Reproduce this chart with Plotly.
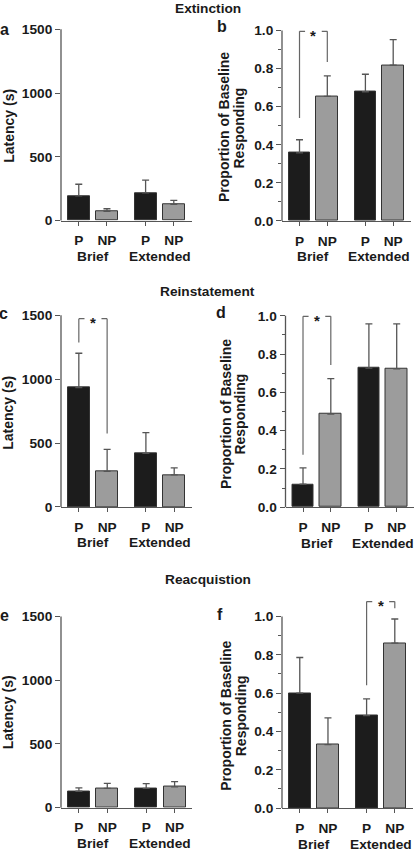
import plotly.graph_objects as go

# ---------------- data ----------------
conditions = ["P", "NP", "P", "NP"]
groups = ["Brief", "Extended"]
bar_pos = [0, 1, 2.37, 3.37]
group_members = [[0, 1], [2, 3]]

ext_lat_mean = [194, 73, 217, 127]
ext_lat_sem = [91, 20, 101, 31]
ext_prop_mean = [0.357, 0.654, 0.678, 0.818]
ext_prop_sem = [0.069, 0.107, 0.092, 0.134]

rein_lat_mean = [934, 279, 419, 251]
rein_lat_sem = [269, 171, 163, 55]
rein_prop_mean = [0.120, 0.486, 0.726, 0.723]
rein_prop_sem = [0.085, 0.186, 0.231, 0.234]

reacq_lat_mean = [129, 152, 152, 163]
reacq_lat_sem = [26, 39, 37, 41]
reacq_prop_mean = [0.600, 0.331, 0.483, 0.861]
reacq_prop_sem = [0.186, 0.140, 0.087, 0.126]

latency_ticks = [0, 500, 1000, 1500]
latency_ticktext = ["0", "500", "1000", "1500"]
prop_ticks = [0.0, 0.2, 0.4, 0.6, 0.8, 1.0]
prop_ticktext = ["0.0", "0.2", "0.4", "0.6", "0.8", "1.0"]
prop_minor_ticks = [0.1, 0.3, 0.5, 0.7, 0.9]

phase_titles = ["Extinction", "Reinstatement", "Reacquistion"]
panel_letters = ["a", "b", "c", "d", "e", "f"]
latency_title = "Latency (s)"
prop_title_lines = ["Proportion of Baseline", "Responding"]

# significance brackets
sig_panel = [1, 2, 3, 5]
sig_left = [0, 0, 0, 2]
sig_right = [1, 1, 1, 3]
sig_left_foot = [0.54, 1288, 0.274, 0.641]
sig_right_foot = [0.834, 574, 0.743, 1.043]
sig_top = [0.995, 1474, 0.997, 1.078]

panel_means = [ext_lat_mean, ext_prop_mean, rein_lat_mean, rein_prop_mean, reacq_lat_mean, reacq_prop_mean]
panel_sems = [ext_lat_sem, ext_prop_sem, rein_lat_sem, rein_prop_sem, reacq_lat_sem, reacq_prop_sem]
panel_is_latency = [True, False, True, False, True, False]

# ---------------- style / geometry ----------------
W, H = 416, 857
FONT = "Liberation Sans, Arial, Helvetica, sans-serif"
TXT = "#1a1a1a"
AX = "#555555"
OUTLINE = "#333333"
ERR = "#555555"
BRK = "#666666"
bar_fill = ["#1c1c1c", "#9c9c9c", "#1c1c1c", "#9c9c9c"]
FS = 13.7

# (axis-left px, zero px, px height 0..top, px per bar unit)
geom = [
    (61.0, 222.7, 193.2, 28.2),
    (282.0, 223.0, 192.3, 27.8),
    (61.0, 511.7, 193.4, 28.3),
    (285.5, 512.0, 193.3, 27.8),
    (61.0, 815.3, 193.0, 28.4),
    (282.0, 815.7, 193.4, 28.2),
]
XMIN, XMAX = -0.63, 4.0
EXT = 1.12
BAR_W = 0.78

title_pos = [(207.5, 8.3), (207.5, 294.3), (207.5, 585.0)]
letter_pos = [(4, 29.3), (222, 26.7), (3.5, 316.7), (221, 315), (4, 620.8), (219.7, 620)]
ytitle_pos = [[(8.3, 126.7)], [(224.5, 128.7), (239.0, 128.7)],
              [(8.0, 416.7)], [(226.0, 418.0), (240.5, 418.0)],
              [(8.0, 719.0)], [(226.0, 722.5), (240.5, 722.5)]]

def px_x(v):
    return v / W

def px_y(v):
    return 1 - v / H

fig = go.Figure()
shapes = []
annotations = []
layout_axes = {}

for i in range(6):
    n = i + 1
    xs = "x" if n == 1 else f"x{n}"
    ys = "y" if n == 1 else f"y{n}"
    x0px, zpx, hpx, unit = geom[i]
    x1px = x0px + (XMAX - XMIN) * unit
    is_lat = panel_is_latency[i]
    top = 1500 if is_lat else 1.0

    fig.add_trace(go.Bar(
        x=bar_pos, y=panel_means[i], width=BAR_W,
        marker=dict(color=bar_fill, line=dict(color=OUTLINE, width=1)),
        error_y=dict(type="data", symmetric=False, array=panel_sems[i],
                     arrayminus=[0] * len(panel_sems[i]),
                     color=ERR, thickness=1.3, width=3.5),
        xaxis=xs, yaxis=ys, showlegend=False, hoverinfo="skip"))

    tickfont = dict(family=FONT, size=FS, color=TXT, weight="bold")
    layout_axes["xaxis" if n == 1 else f"xaxis{n}"] = dict(
        domain=[px_x(x0px), px_x(x1px)], range=[XMIN, XMAX], anchor=ys,
        tickmode="array", tickvals=bar_pos, ticktext=conditions,
        ticks="outside", ticklen=4, tickwidth=1.2, tickcolor=AX,
        ticklabelstandoff=3,
        showline=True, linecolor=AX, linewidth=1.3,
        showgrid=False, zeroline=False, tickfont=tickfont, fixedrange=True)
    ya = dict(
        domain=[px_y(zpx), px_y(zpx - hpx * EXT)], range=[0, top * EXT], anchor=xs,
        tickmode="array",
        tickvals=latency_ticks if is_lat else prop_ticks,
        ticktext=latency_ticktext if is_lat else prop_ticktext,
        ticks="outside", ticklen=5, tickwidth=1.2, tickcolor=AX,
        showline=False, showgrid=False, zeroline=False,
        tickfont=tickfont, fixedrange=True)
    if not is_lat:
        ya["minor"] = dict(tickmode="array", tickvals=prop_minor_ticks, ticks="outside",
                           ticklen=3, tickwidth=1.1, tickcolor=AX, showgrid=False)
    layout_axes["yaxis" if n == 1 else f"yaxis{n}"] = ya

    # y axis line only from 0 to top
    shapes.append(dict(type="line", xref=f"{xs} domain", yref=f"{ys} domain",
                       x0=0, x1=0, y0=0, y1=1 / EXT,
                       line=dict(color=AX, width=1.3)))

    # group labels
    for g, members in enumerate(group_members):
        gx = sum(bar_pos[m] for m in members) / len(members)
        annotations.append(dict(text=groups[g], x=gx, y=0, xref=xs, yref=f"{ys} domain",
                                yshift=-36, showarrow=False, xanchor="center", yanchor="middle",
                                font=dict(family=FONT, size=FS, color=TXT, weight="bold")))

    # panel letter
    lx, ly = letter_pos[i]
    annotations.append(dict(text=panel_letters[i], x=px_x(lx), y=px_y(ly), xref="paper", yref="paper",
                            showarrow=False, xanchor="center", yanchor="middle",
                            font=dict(family=FONT, size=16, color=TXT, weight="bold")))

    # y titles
    lines = [latency_title] if is_lat else prop_title_lines
    for (tx, ty), txt in zip(ytitle_pos[i], lines):
        annotations.append(dict(text=txt, x=px_x(tx), y=px_y(ty), xref="paper", yref="paper",
                                showarrow=False, xanchor="center", yanchor="middle", textangle=-90,
                                font=dict(family=FONT, size=14, color=TXT, weight="bold")))

# significance brackets
for k in range(len(sig_panel)):
    n = sig_panel[k] + 1
    xs = "x" if n == 1 else f"x{n}"
    ys = "y" if n == 1 else f"y{n}"
    xl = bar_pos[sig_left[k]]
    xr = bar_pos[sig_right[k]]
    yt = sig_top[k]
    stub = 0.2
    line = dict(color=BRK, width=1.2)
    shapes += [
        dict(type="line", xref=xs, yref=ys, x0=xl, x1=xl, y0=sig_left_foot[k], y1=yt, line=line),
        dict(type="line", xref=xs, yref=ys, x0=xl, x1=xl + stub, y0=yt, y1=yt, line=line),
        dict(type="line", xref=xs, yref=ys, x0=xr - stub, x1=xr, y0=yt, y1=yt, line=line),
        dict(type="line", xref=xs, yref=ys, x0=xr, x1=xr, y0=sig_right_foot[k], y1=yt, line=line),
    ]
    annotations.append(dict(text="*", x=(xl + xr) / 2, y=yt, xref=xs, yref=ys,
                            yshift=-4, showarrow=False, xanchor="center", yanchor="middle",
                            font=dict(family=FONT, size=15, color=TXT, weight="bold")))

# phase titles
for t, (tx, ty) in zip(phase_titles, title_pos):
    annotations.append(dict(text=t, x=px_x(tx), y=px_y(ty), xref="paper", yref="paper",
                            showarrow=False, xanchor="center", yanchor="middle",
                            font=dict(family=FONT, size=FS, color=TXT, weight="bold")))

fig.update_layout(
    width=W, height=H, margin=dict(l=0, r=0, t=0, b=0),
    paper_bgcolor="white", plot_bgcolor="white",
    shapes=shapes, annotations=annotations, bargap=0,
    font=dict(family=FONT, color=TXT),
    **layout_axes)

fig.write_html("out.html", config={"displayModeBar": False},
               post_script="document.body.style.margin='0';document.body.style.padding='0';document.body.style.overflow='hidden';")
